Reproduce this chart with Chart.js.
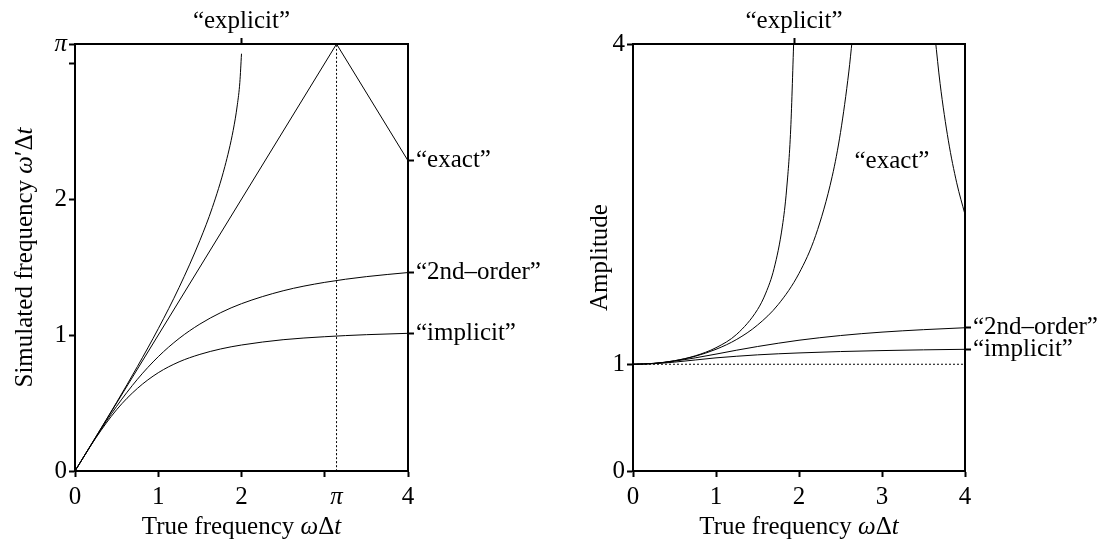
<!DOCTYPE html>
<html>
<head>
<meta charset="utf-8">
<script src="https://cdn.jsdelivr.net/npm/chart.js@4"></script>
<style>
  body { margin: 0; background: #fff; }
  canvas { position: absolute; top: 0; }
  #freqChart { left: 0; }
  #ampChart { left: 553px; }
</style>
</head>
<body>
<canvas id="freqChart" width="553" height="547"></canvas>
<canvas id="ampChart" width="554" height="547"></canvas>
<script>
// values
const trueFreq = [0, 0.25, 0.5, 0.75, 1, 1.25, 1.5, 1.75, 2, 2.5, 3, 3.5, 4];

// left panel: simulated frequency
const implicitFreq = [0, 0.243, 0.451, 0.608, 0.723, 0.803, 0.858, 0.898, 0.927, 0.966, 0.988, 1.003, 1.013];
const secondOrderFreq = [0, 0.247, 0.476, 0.675, 0.841, 0.975, 1.081, 1.165, 1.231, 1.326, 1.388, 1.430, 1.460];
const explicitFreqX = [0, 0.25, 0.5, 0.75, 1, 1.25, 1.5, 1.65, 1.8, 1.9, 1.95, 1.98, 2];
const explicitFreq = [0, 0.251, 0.505, 0.769, 1.047, 1.350, 1.696, 1.939, 2.240, 2.506, 2.694, 2.859, 3.07];
const exactFreqX = [0, Math.PI, 4];
const exactFreq = [0, Math.PI, 2.283];

// right panel: amplitude
const implicitAmp = [1, 1.005, 1.02, 1.04, 1.06, 1.075, 1.088, 1.098, 1.106, 1.119, 1.128, 1.135, 1.14];
const secondOrderAmp = [1, 1.008, 1.029, 1.060, 1.095, 1.132, 1.166, 1.197, 1.225, 1.269, 1.301, 1.324, 1.342];
const explicitAmpX = [0, 0.25, 0.5, 0.75, 1, 1.25, 1.5, 1.6, 1.7, 1.8, 1.85, 1.9, 1.94];
const explicitAmp = [1, 1.008, 1.033, 1.079, 1.155, 1.281, 1.512, 1.667, 1.898, 2.294, 2.632, 3.203, 4.11];
const exactAmpX = [0, 0.25, 0.5, 0.75, 1, 1.25, 1.5, 1.75, 2, 2.2, 2.4, 2.5, 2.6, 2.64];
const exactAmp = [1, 1.008, 1.032, 1.075, 1.140, 1.233, 1.367, 1.560, 1.851, 2.205, 2.760, 3.171, 3.738, 4.03];
const exactAmp2X = [3.64, 3.7, 3.8, 3.9, 4];
const exactAmp2 = [4.06, 3.629, 3.093, 2.700, 2.403];

// tick values and labels
const freqXTicks = [0, 1, 2, 3, Math.PI, 4];
const freqXLabels = ['0', '1', '2', '', 'π', '4'];
const freqYTicks = [0, 1, 2, 3, Math.PI];
const freqYLabels = ['0', '1', '2', '', 'π'];
const ampXTicks = [0, 1, 2, 3, 4];
const ampXLabels = ['0', '1', '2', '3', '4'];
const ampYTicks = [0, 1, 4];
const ampYLabels = ['0', '1', '4'];

const FONT = 'Liberation Serif';
const FS = 25;

function pts(xs, ys) {
    return xs.map((x, i) => ({ x: x, y: ys[i] }));
}

function curve(xs, ys, dash) {
    return {
        data: pts(xs, ys),
        borderColor: '#000',
        borderWidth: 1,
        borderDash: dash || [],
        pointRadius: 0,
        cubicInterpolationMode: 'monotone',
        fill: false
    };
}

function axis(position, min, max, ticks, labels, size, hideTick) {
    const vertical = position === 'left' || position === 'right';
    return {
        type: 'linear',
        position: position,
        min: min,
        max: max,
        afterBuildTicks: (scale) => {
            scale.ticks = ticks.map(v => ({ value: v }));
        },
        afterFit: (scale) => {
            if (vertical) scale.width = size;
            else scale.height = size;
        },
        border: { display: true, color: '#000', width: 2 },
        grid: {
            drawOnChartArea: false,
            drawTicks: true,
            tickLength: 6,
            tickWidth: 2,
            tickColor: (ctx) => (hideTick && ctx.tick && ctx.tick.value === hideTick) ? 'rgba(0,0,0,0)' : '#000'
        },
        ticks: {
            autoSkip: false,
            maxRotation: 0,
            padding: position === 'bottom' ? 5 : 2,
            color: '#000',
            font: (ctx) => ({
                family: FONT,
                size: FS,
                style: (ctx.tick && ctx.tick.label === 'π') ? 'italic' : 'normal'
            }),
            callback: (value) => labels[ticks.indexOf(value)]
        }
    };
}

// axis titles with italic symbols, plus a free text note
function drawRich(ctx, parts, cx, cy) {
    let total = 0;
    parts.forEach(p => {
        ctx.font = (p[1] ? 'italic ' : '') + FS + 'px "' + FONT + '"';
        total += ctx.measureText(p[0]).width;
    });
    let x = cx - total / 2;
    ctx.textAlign = 'left';
    ctx.textBaseline = 'middle';
    ctx.fillStyle = '#000';
    parts.forEach(p => {
        ctx.font = (p[1] ? 'italic ' : '') + FS + 'px "' + FONT + '"';
        ctx.fillText(p[0], x, cy);
        x += ctx.measureText(p[0]).width;
    });
}

const titlesPlugin = {
    id: 'richTitles',
    afterDraw(chart, args, opts) {
        const ctx = chart.ctx;
        const a = chart.chartArea;
        ctx.save();
        drawRich(ctx, opts.xTitle, (a.left + a.right) / 2, a.bottom + 56);
        ctx.translate(a.left - opts.yOffset, (a.top + a.bottom) / 2);
        ctx.rotate(-Math.PI / 2);
        drawRich(ctx, opts.yTitle, 0, 0);
        ctx.restore();
        if (opts.note) {
            ctx.save();
            const px = chart.scales.x.getPixelForValue(opts.note.at[0]);
            const py = chart.scales.y.getPixelForValue(opts.note.at[1]);
            drawRich(ctx, [[opts.note.text, false]], px, py);
            ctx.restore();
        }
    }
};

const xTitle = [['True frequency ', false], ['ω', true], ['Δ', false], ['t', true]];

new Chart(document.getElementById('freqChart').getContext('2d'), {
    type: 'line',
    data: {
        datasets: [
            curve(trueFreq, implicitFreq),
            curve(trueFreq, secondOrderFreq),
            curve(explicitFreqX, explicitFreq),
            Object.assign(curve(exactFreqX, exactFreq), { cubicInterpolationMode: 'default', tension: 0 }),
            curve([Math.PI, Math.PI], [0, Math.PI], [2, 2])
        ]
    },
    options: {
        responsive: false,
        animation: false,
        layout: { padding: 0 },
        plugins: {
            legend: { display: false },
            tooltip: { enabled: false },
            richTitles: {
                xTitle: xTitle,
                yTitle: [['Simulated frequency ', false], ['ω', true], ['′Δ', false], ['t', true]],
                yOffset: 50
            }
        },
        scales: {
            x: axis('bottom', 0, 4, freqXTicks, freqXLabels, 76, Math.PI),
            x2: axis('top', 0, 4, [explicitFreqX[explicitFreqX.length - 1]], ['“explicit”'], 44),
            y: axis('left', 0, Math.PI, freqYTicks, freqYLabels, 75),
            y2: axis('right', 0, Math.PI,
                [exactFreq[2], secondOrderFreq[12], implicitFreq[12]],
                ['“exact”', '“2nd–order”', '“implicit”'], 145)
        }
    },
    plugins: [titlesPlugin]
});

new Chart(document.getElementById('ampChart').getContext('2d'), {
    type: 'line',
    data: {
        datasets: [
            curve(trueFreq, implicitAmp),
            curve(trueFreq, secondOrderAmp),
            curve(explicitAmpX, explicitAmp),
            curve(exactAmpX, exactAmp),
            curve(exactAmp2X, exactAmp2),
            curve([0, 4], [1, 1], [2, 2])
        ]
    },
    options: {
        responsive: false,
        animation: false,
        layout: { padding: 0 },
        plugins: {
            legend: { display: false },
            tooltip: { enabled: false },
            richTitles: {
                xTitle: xTitle,
                yTitle: [['Amplitude', false]],
                yOffset: 33,
                note: { text: '“exact”', at: [3.12, 2.9] }
            }
        },
        scales: {
            x: axis('bottom', 0, 4, ampXTicks, ampXLabels, 76),
            x2: axis('top', 0, 4, [1.94], ['“explicit”'], 44),
            y: axis('left', 0, 4, ampYTicks, ampYLabels, 80),
            y2: axis('right', 0, 4,
                [secondOrderAmp[12], implicitAmp[12]],
                ['“2nd–order”', '“implicit”'], 142)
        }
    },
    plugins: [titlesPlugin]
});
</script>
</body>
</html>
